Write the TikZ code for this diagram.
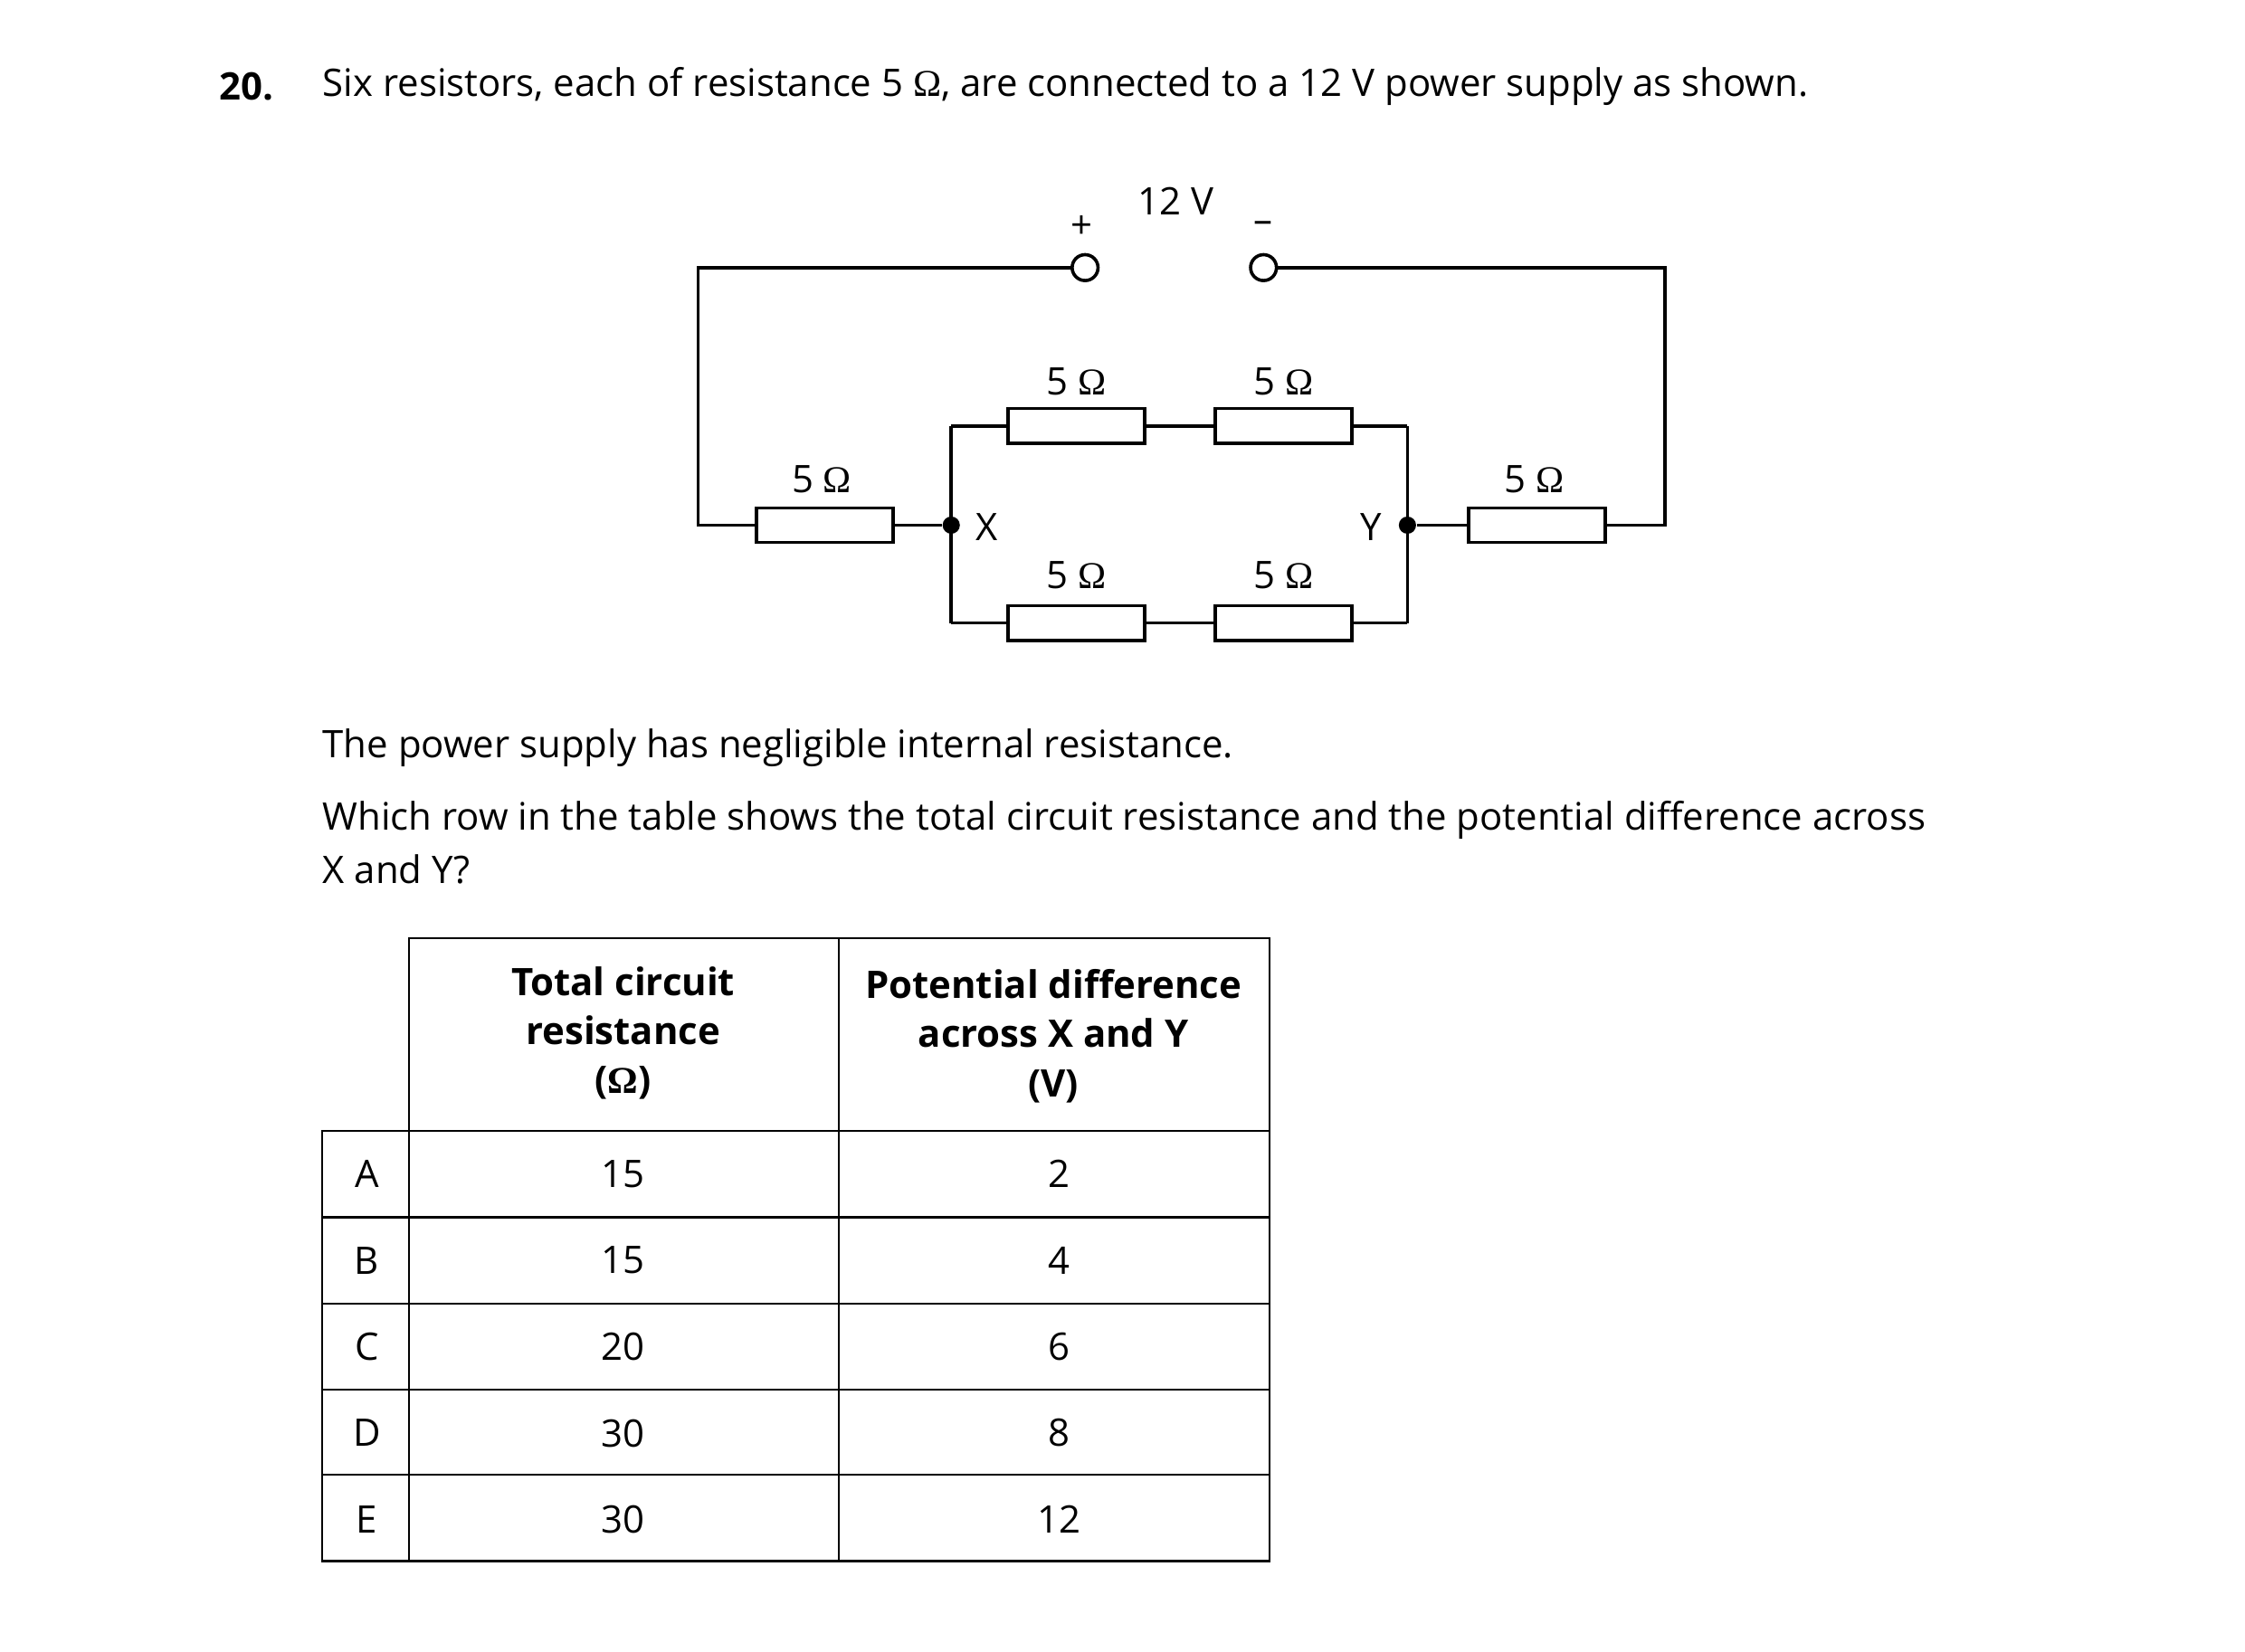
\documentclass[tikz,border=0pt]{standalone}
\usepackage{fontspec}
\setmainfont{Open Sans}
\newfontfamily\omfont{Liberation Serif}
\newcommand{\Om}{{\omfont Ω}}
\begin{document}
\begin{tikzpicture}[x=0.02cm,y=-0.02cm,
  txt/.style={inner sep=0pt,font=\fontsize{15}{18}\selectfont},
  res/.style={draw,line width=1.3pt,minimum width=1.9cm,minimum height=0.48cm,inner sep=0pt},
  w/.style={line width=1.3pt},
  term/.style={circle,draw,line width=1.3pt,minimum size=0.36cm,inner sep=0pt,fill=white},
  dot/.style={circle,fill,minimum size=0.24cm,inner sep=0pt},
  tb/.style={line width=0.8pt}]
\useasboundingbox (0,0) rectangle (1560,1148);
\node[txt,anchor=west,font=\fontsize{15}{18}\selectfont\bfseries] (q) at (152,60) {20.};
\node[txt,anchor=west] (t1) at (224,60) {Six resistors, each of resistance 5 \Om, are connected to a 12 V power supply as shown.};
% circuit
\node[term] (tp) at (754,186) {};
\node[term] (tm) at (878,186) {};
\node[txt] at (752,158) {+};
\node[txt] at (817,140) {12 V};
\node[txt] at (878,158) {--};
\coordinate (tl) at (485,186); \coordinate (tr) at (1157,186);
\coordinate (bl) at (485,365); \coordinate (br) at (1157,365);
\node[res] (r1) at (573,365) {};
\node[res] (r2) at (1068,365) {};
\node[dot] (X) at (661,365) {};
\node[dot] (Y) at (978,365) {};
\coordinate (xt) at (661,296); \coordinate (xb) at (661,433);
\coordinate (yt) at (978,296); \coordinate (yb) at (978,433);
\node[res] (r3) at (748,296) {};
\node[res] (r4) at (892,296) {};
\node[res] (r5) at (748,433) {};
\node[res] (r6) at (892,433) {};
\draw[w] (tp) -- (tl) -- (bl) -- (r1) -- (X);
\draw[w] (tm) -- (tr) -- (br) -- (r2) -- (Y);
\draw[w] (xt) -- (xb); \draw[w] (yt) -- (yb);
\draw[w] (xt) -- (r3) -- (r4) -- (yt);
\draw[w] (xb) -- (r5) -- (r6) -- (yb);
\node[txt] at (686,366) {X};
\node[txt] at (953,366) {Y};
\foreach \p in {(571,333),(748,265),(892,265),(748,400),(892,400),(1066,333)} \node[txt] at \p {5 \Om};
% text
\node[txt,anchor=west] at (224,520) {The power supply has negligible internal resistance.};
\node[txt,anchor=west] at (224,570) {Which row in the table shows the total circuit resistance and the potential difference across};
\node[txt,anchor=west] at (224,604) {X and Y?};
% table
\draw[tb] (284,652) rectangle (882,1085);
\draw[tb] (224,786) rectangle (284,1085);
\draw[tb] (583,652) -- (583,1085);
\foreach \y in {786,846,906,966,1025} \draw[tb] (224,\y) -- (882,\y);
\node[txt,font=\fontsize{15}{18}\selectfont\bfseries,align=center] at (433,718) {Total circuit\\[1.5pt]resistance\\[1.5pt]({\omfont Ω})};
\node[txt,font=\fontsize{15}{18}\selectfont\bfseries,align=center] at (732,720) {Potential difference\\[1.5pt]across X and Y\\[1.5pt](V)};
\foreach \l/\a/\b [count=\i] in {A/15/2,B/15/4,C/20/6,D/30/8,E/30/12}{
  \node[txt] at (255,756+60*\i) {\l};
  \node[txt] at (433,756+60*\i) {\a};
  \node[txt] at (736,756+60*\i) {\b};}
\end{tikzpicture}
\end{document}
